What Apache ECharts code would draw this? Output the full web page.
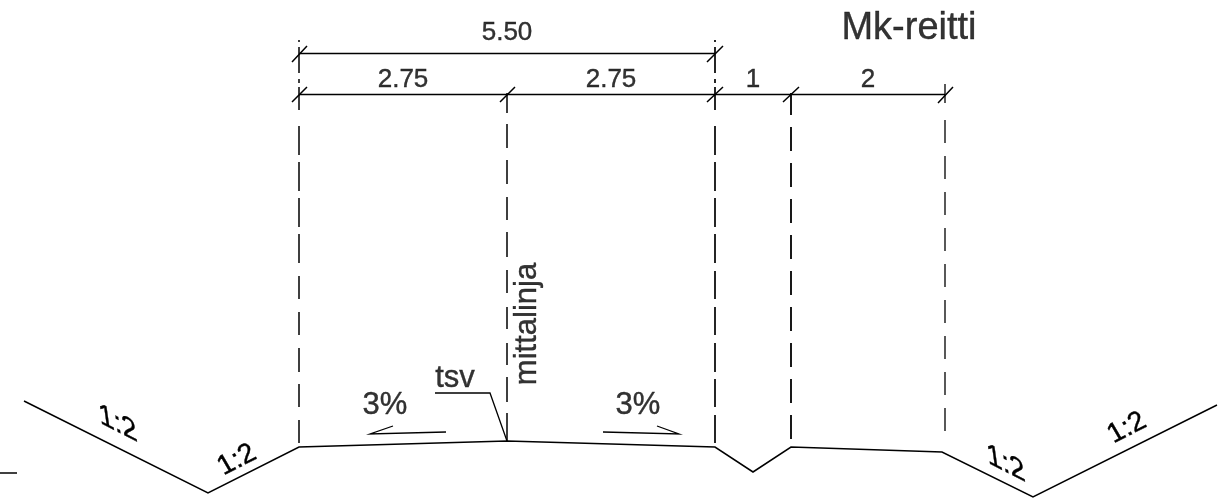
<!DOCTYPE html>
<html><head><meta charset="utf-8">
<style>html,body{margin:0;padding:0;background:#fff}#c{width:1231px;height:499px}</style>
<script src="https://cdn.jsdelivr.net/npm/echarts@6/dist/echarts.min.js"></script>
</head><body><div id="c"></div>
<script>
// Cross-section profile (drawing units)
const profileX = [24, 208, 299, 507, 715, 753, 791, 942, 1033, 1217];
const profileY = [401, 493, 447, 441, 447, 472, 447, 452, 497, 405];
const stubX = [0, 17];
const stubY = [473, 473];
// Dimension lines
const dimLines = [[[299, 53.5], [715, 53.5]], [[299, 94.5], [945, 94.5]]];
const dimTicks = [
  [[292, 62], [307, 46]], [[292, 102], [307, 87]], [[500, 102], [515, 87]],
  [[707, 62], [723, 46]], [[707, 102], [723, 87]], [[783, 102], [799, 87]], [[938, 103], [953, 87]]
];
// Extension lines: dash start/end per station
const ext299 = [[40,42],[47,73],[79,83],[87,110],[126,155],[162,191],[198,227],[234,263],[276,299],[312,335],[348,372],[384,407],[420,443]];
const ext507 = [[93,113],[124,148],[160,184],[197,220],[232,257],[270,293],[307,329],[343,365],[377,402],[413,441]];
const ext715 = [[40,42],[47,73],[79,83],[87,110],[126,155],[162,191],[198,227],[234,263],[271,299],[307,335],[343,372],[379,407],[415,443]];
const ext791 = [[93,115],[127,151],[163,187],[199,223],[235,259],[271,295],[307,331],[343,367],[379,403],[415,439]];
const ext945 = [[84,103],[120,143],[156,179],[192,215],[228,251],[264,287],[300,323],[336,359],[372,395],[408,431]];
// Leader and slope arrows
const tsvLeader = [[435, 393], [490, 393], [507, 441]];
const arrowLeft = [[446, 432], [370, 434], [393, 426]];
const arrowRight = [[603, 432], [679, 434], [657, 426]];
// Texts
const textNames  = ['5.50','2.75','2.75','1','2','Mk-reitti','mittalinja','tsv','3%','3%'];
const textX      = [507, 403, 611, 753, 868, 909, 527, 455, 385, 638];
const textY      = [33, 80, 80, 80, 80, 29, 324, 378, 405, 405];
const textSize   = [26, 26, 26, 26, 26, 38, 31, 31, 31, 31];
const textRotate = [0, 0, 0, 0, 0, 0, 90, 0, 0, 0];
// Slope ratios: oblique drafting text (baseline angle and stem lean, degrees)
const slopeNames    = ['1:2', '1:2', '1:2', '1:2'];
const slopeX        = [118, 237, 1006, 1127];
const slopeY        = [424, 460, 464, 428];
const slopeSize     = [31, 28, 31, 28];
const slopeBaseline = [27, -27, 27, -27];
const slopeLean     = [8, 30, 8, 30];

const INK = '#000';
const zip = (xs, ys) => xs.map((x, i) => [x, ys[i]]);
const join = segs => segs.flatMap((s, i) => (i ? [[null, null]] : []).concat(s));
const ext = (x, dashes) => join(dashes.map(d => [[x, d[0]], [x, d[1]]]));
const line = (data, width) => ({
  type: 'line', data, symbol: 'none', silent: true, connectNulls: false,
  lineStyle: { color: INK, width, cap: 'butt', join: 'miter' }, z: 2
});
const rad = d => d * Math.PI / 180;

// Oblique text: parent rotate+scale with child rotate gives the shear
function obliqueParts(baseline, lean) {
  const m00 = Math.cos(rad(baseline)), m10 = Math.sin(rad(baseline));
  const m01 = Math.sin(rad(lean)), m11 = Math.cos(rad(lean));
  const E = (m00 + m11) / 2, F = (m00 - m11) / 2, G = (m10 + m01) / 2, H = (m10 - m01) / 2;
  const Q = Math.hypot(E, H), R = Math.hypot(F, G);
  const a1 = Math.atan2(G, F), a2 = Math.atan2(H, E);
  return { sx: Q + R, sy: Q - R, rotation: -(a2 + a1) / 2, inner: -(a2 - a1) / 2 };
}

const chart = echarts.init(document.getElementById('c'), null, { renderer: 'canvas' });
chart.setOption({
  animation: false,
  backgroundColor: '#fff',
  grid: { left: 0, right: 0, top: 0, bottom: 0 },
  xAxis: { type: 'value', min: 0, max: 1231, show: false },
  yAxis: { type: 'value', min: 0, max: 499, inverse: true, show: false },
  series: [
    line(zip(profileX, profileY), 1.5),
    line(zip(stubX, stubY), 1.5),
    line(join(dimLines), 1.5),
    line(join(dimTicks), 1.5),
    line(ext(299, ext299), 1.5),
    line(ext(507, ext507), 1.5),
    line(ext(715, ext715), 1.7),
    line(ext(791, ext791), 1.8),
    line(ext(945, ext945), 1.3),
    line(tsvLeader, 1.3),
    line(arrowLeft, 1.3),
    line(arrowRight, 1.3),
    {
      type: 'scatter', symbolSize: 0, silent: true, z: 3,
      data: textNames.map((n, i) => ({
        name: n, value: [textX[i], textY[i]],
        label: {
          show: true, position: 'inside', formatter: n,
          fontFamily: 'Liberation Sans', fontSize: textSize[i],
          rotate: textRotate[i], color: INK,
          textBorderColor: INK, textBorderWidth: 0.4,
          align: 'center', verticalAlign: 'middle'
        }
      }))
    },
    {
      type: 'custom', silent: true, z: 3,
      coordinateSystem: 'cartesian2d',
      data: slopeX.map((x, i) => [x, slopeY[i], i]),
      renderItem: (params, api) => {
        const i = api.value(2);
        const p = api.coord([api.value(0), api.value(1)]);
        const o = obliqueParts(slopeBaseline[i], slopeLean[i]);
        return {
          type: 'group', x: p[0], y: p[1], rotation: o.rotation, scaleX: o.sx, scaleY: o.sy,
          children: [{
            type: 'text', rotation: o.inner,
            style: {
              text: slopeNames[i], x: 0, y: 0, fill: INK,
              fontFamily: 'Liberation Sans', fontSize: slopeSize[i],
              align: 'center', verticalAlign: 'middle',
              stroke: INK, lineWidth: 0.4
            }
          }]
        };
      }
    }
  ]
});
</script></body></html>
